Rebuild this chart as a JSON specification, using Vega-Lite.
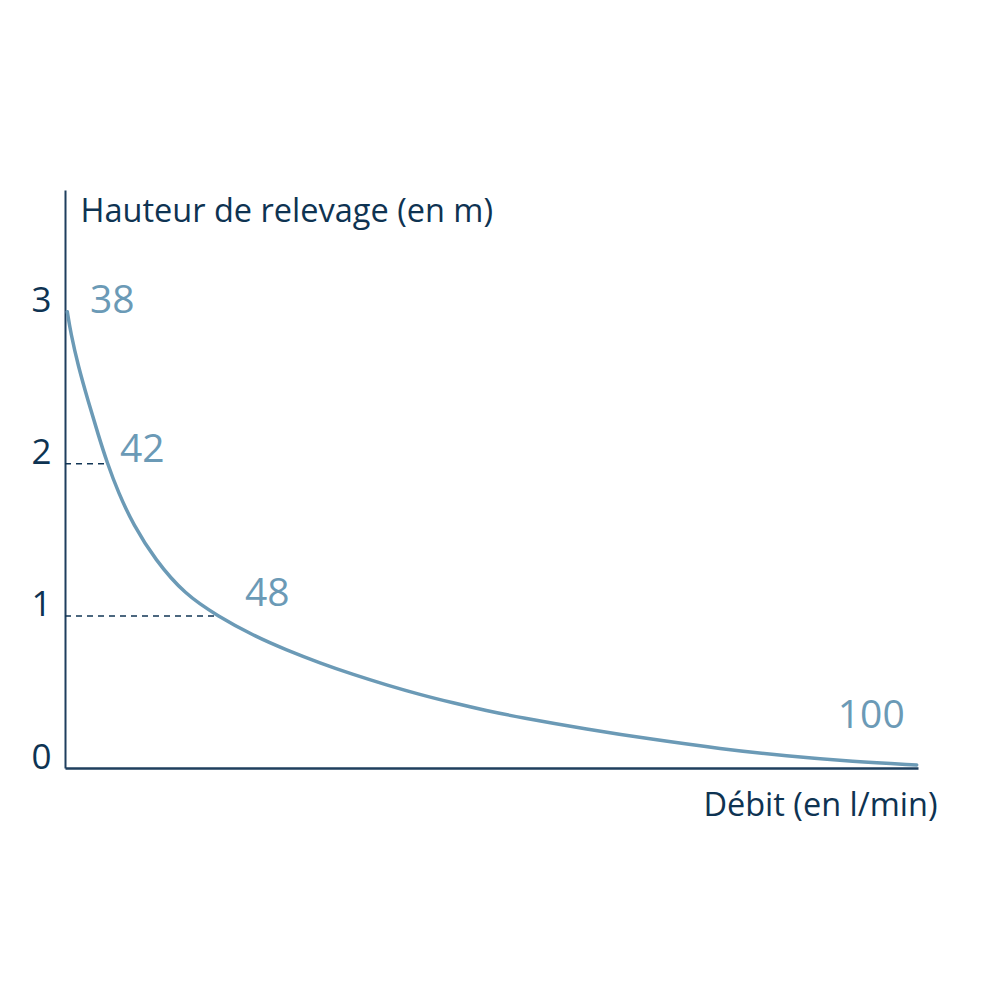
{
  "$schema": "https://vega.github.io/schema/vega-lite/v6.json",
  "autosize": {"type": "none"},
  "width": 853,
  "height": 578,
  "padding": {"left": 65, "top": 190, "right": 82, "bottom": 232},
  "background": "white",
  "datasets": {
    "curve": [
      {"x": 0.27, "y": 3.0},
      {"x": 0.67, "y": 2.86},
      {"x": 1.56, "y": 2.64},
      {"x": 2.73, "y": 2.41},
      {"x": 3.9, "y": 2.19},
      {"x": 4.92, "y": 2.01},
      {"x": 6.25, "y": 1.81},
      {"x": 8.0, "y": 1.6},
      {"x": 10.55, "y": 1.37},
      {"x": 14.07, "y": 1.14},
      {"x": 17.9, "y": 1.0},
      {"x": 22.08, "y": 0.87},
      {"x": 25.99, "y": 0.775},
      {"x": 29.9, "y": 0.69},
      {"x": 33.8, "y": 0.614},
      {"x": 37.7, "y": 0.546},
      {"x": 41.6, "y": 0.483},
      {"x": 45.5, "y": 0.428},
      {"x": 49.4, "y": 0.377},
      {"x": 53.3, "y": 0.333},
      {"x": 61.16, "y": 0.255},
      {"x": 68.97, "y": 0.187},
      {"x": 76.79, "y": 0.127},
      {"x": 84.6, "y": 0.078},
      {"x": 92.4, "y": 0.042},
      {"x": 99.85, "y": 0.02}
    ],
    "guides": [
      {"x0": 0, "x1": 4.9, "h": 2},
      {"x0": 0, "x1": 17.9, "h": 1}
    ],
    "labels": [
      {"x": 2.93, "y": 3.07, "debit": "38"},
      {"x": 6.45, "y": 2.09, "debit": "42"},
      {"x": 21.1, "y": 1.145, "debit": "48"},
      {"x": 90.6, "y": 0.34, "debit": "100"}
    ]
  },
  "layer": [
    {
      "data": {"name": "guides"},
      "mark": {"type": "rule", "color": "#123656", "strokeWidth": 1.5, "strokeDash": [6, 5]},
      "encoding": {
        "x": {"field": "x0", "type": "quantitative", "scale": {"domain": [0, 100]}},
        "x2": {"field": "x1"},
        "y": {"field": "h", "type": "quantitative"}
      }
    },
    {
      "data": {"name": "curve"},
      "mark": {"type": "line", "color": "#6b9ab6", "strokeWidth": 3.5, "interpolate": "basis", "strokeCap": "round"},
      "encoding": {
        "x": {
          "field": "x", "type": "quantitative",
          "scale": {"domain": [0, 100], "nice": false, "zero": false},
          "axis": {
            "title": "Débit (en l/min)",
            "labels": false, "ticks": false, "grid": false,
            "domainColor": "#1f3f5e", "domainWidth": 2.5,
            "titleFont": "Open Sans", "titleFontSize": 32.5, "titleFontWeight": 500,
            "titleColor": "#0e3352",
            "titleAnchor": null, "titleAlign": "right", "titleBaseline": "middle",
            "titleX": 872, "titleY": 37
          }
        },
        "y": {
          "field": "y", "type": "quantitative",
          "scale": {"domain": [0, 3.8], "nice": false},
          "axis": {
            "title": "Hauteur de relevage (en m)",
            "values": [0, 1, 2, 3],
            "format": "d",
            "ticks": false, "grid": false,
            "domainColor": "#1f3f5e", "domainWidth": 2,
            "labelFont": "Open Sans", "labelFontSize": 35, "labelFontWeight": 500, "labelColor": "#0e3352",
            "labelAlign": "center", "labelBaseline": "alphabetic", "labelPadding": 24,
            "labelFlush": false,
            "titleFont": "Open Sans", "titleFontSize": 32.5, "titleFontWeight": 500,
            "titleColor": "#0e3352",
            "titleAngle": 0, "titleAnchor": null, "titleAlign": "left", "titleBaseline": "middle",
            "titleX": 15, "titleY": 21
          }
        }
      }
    },
    {
      "data": {"name": "labels"},
      "mark": {"type": "text", "font": "Open Sans", "fontSize": 39, "fontWeight": 500, "color": "#6b9ab6", "align": "left", "baseline": "middle"},
      "encoding": {
        "x": {"field": "x", "type": "quantitative"},
        "y": {"field": "y", "type": "quantitative"},
        "text": {"field": "debit"}
      }
    }
  ],
  "config": {"view": {"stroke": null}}
}
